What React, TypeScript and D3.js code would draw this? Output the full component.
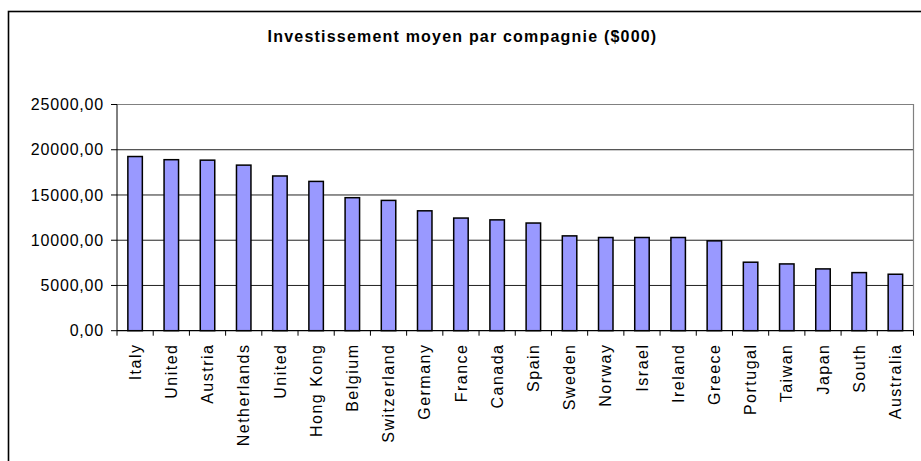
import * as d3 from "d3";

const title = "Investissement moyen par compagnie ($000)";
const countries = [
  "Italy", "United", "Austria", "Netherlands", "United", "Hong Kong", "Belgium",
  "Switzerland", "Germany", "France", "Canada", "Spain", "Sweden", "Norway",
  "Israel", "Ireland", "Greece", "Portugal", "Taiwan", "Japan", "South", "Australia",
];
const investment = [
  19250, 18900, 18850, 18300, 17100, 16500, 14700,
  14400, 13250, 12450, 12250, 11900, 10480, 10300,
  10300, 10300, 9930, 7570, 7380, 6830, 6420, 6240,
];
const yTicks = [0, 5000, 10000, 15000, 20000, 25000];

export default function App({
  width = 921,
  height = 461,
  marginTop = 104.5,
  marginRight = 7.5,
  marginBottom = 130.3,
  marginLeft = 117,
}) {
  const x = d3.scaleBand<number>()
    .domain(d3.range(countries.length))
    .range([marginLeft, width - marginRight])
    .paddingInner(0.6)
    .paddingOuter(0.3);
  const y = d3.scaleLinear([0, 25000], [height - marginBottom, marginTop]);
  const step = x.step();
  const x0 = marginLeft;
  const x1 = width - marginRight;
  const fmt = (v: number) => d3.format(".2f")(v).replace(".", ",");
  const font = "Arial, 'Liberation Sans', sans-serif";

  return (
    <svg width={width} height={height} style={{ position: "absolute", left: 0, top: 0, background: "#fff" }}>
      <rect x={8.5} y={11.5} width={930} height={470} fill="#fff" stroke="#000" strokeWidth={1.6} />
      <text x={462.5} y={42.3} textAnchor="middle" fontFamily={font} fontSize={16} fontWeight="bold" letterSpacing={1.2}>
        {title}
      </text>

      {/* grid */}
      {yTicks.slice(1, -1).map((t) => (
        <line key={t} x1={x0} x2={x1} y1={y(t)} y2={y(t)} stroke="#222" strokeWidth={1} />
      ))}
      <path d={`M${x0},${y(25000)}H${x1}V${y(0)}`} fill="none" stroke="#808080" strokeWidth={1.2} />

      {/* bars */}
      <g fill="#9999ff" stroke="#000" strokeWidth={1.5}>
        {investment.map((v, i) => (
          <rect key={i} x={x(i)} y={y(v)} width={x.bandwidth()} height={y(0) - y(v)} />
        ))}
      </g>

      {/* y axis */}
      <line x1={x0} x2={x0} y1={y(25000)} y2={y(0)} stroke="#000" />
      {yTicks.map((t) => (
        <g key={t}>
          <line x1={x0 - 6} x2={x0} y1={y(t)} y2={y(t)} stroke="#000" />
          <text x={104} y={y(t)} dy="0.35em" textAnchor="end" fontFamily={font} fontSize={16} letterSpacing={0.8}>
            {fmt(t)}
          </text>
        </g>
      ))}

      {/* x axis */}
      <line x1={x0} x2={x1} y1={y(0)} y2={y(0)} stroke="#000" strokeWidth={1.2} />
      {d3.range(countries.length + 1).map((i) => (
        <line key={i} x1={x0 + i * step} x2={x0 + i * step} y1={y(0)} y2={y(0) + 5} stroke="#000" />
      ))}
      {countries.map((c, i) => {
        const cx = (x(i) ?? 0) + x.bandwidth() / 2;
        return (
          <text key={i} transform={`translate(${cx},343.5) rotate(-90)`} dy="0.35em" textAnchor="end"
            fontFamily={font} fontSize={16} letterSpacing={1.5}>
            {c}
          </text>
        );
      })}
    </svg>
  );
}
